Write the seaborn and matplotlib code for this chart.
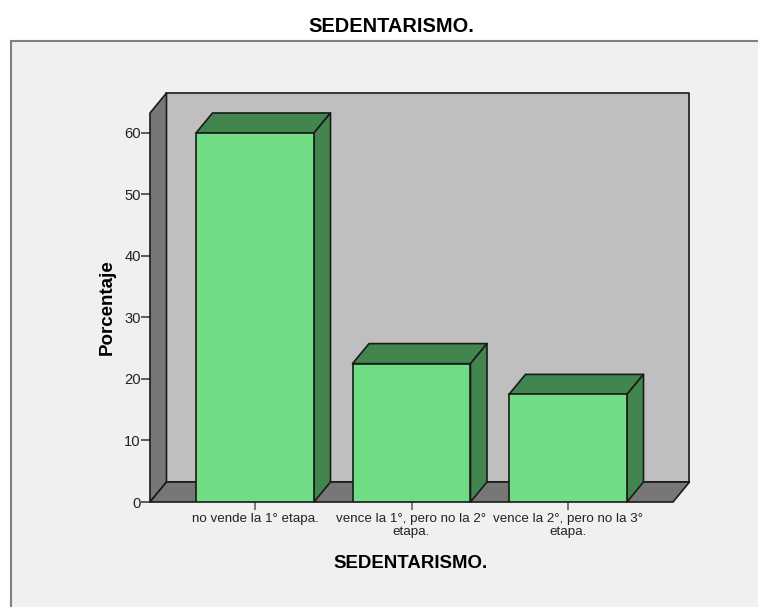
# ==========================================
# SEDENTARISMO - 3D STYLE BAR CHART
# ==========================================

import matplotlib
matplotlib.use("Agg")
import matplotlib.pyplot as plt
from matplotlib.patches import Polygon, Rectangle
import seaborn as sns

# Data
categorias = [
    "no vende la 1° etapa.",
    "vence la 1°, pero no la 2°\netapa.",
    "vence la 2°, pero no la 3°\netapa.",
]
porcentajes = [60.0, 22.5, 17.5]
ticks_y = [0, 10, 20, 30, 40, 50, 60]

# Colours
VERDE = "#70DD85"
VERDE_OSC = "#43854F"
PARED = "#BFBFBF"
GRIS_OSC = "#777777"
PANEL = "#F0F0F0"
BORDE = "#1A1A1A"

sns.set_theme(style="white")
plt.rcParams["font.family"] = ["Liberation Sans", "DejaVu Sans"]

W, H = 758, 607
fig = plt.figure(figsize=(W / 100, H / 100), dpi=100, facecolor="white")

# Grey panel behind the chart, runs off the right and bottom edges
fig.patches.append(Rectangle((10.5 / W, -0.05), 1.0, 1 - 40.5 / H + 0.05,
                             transform=fig.transFigure, facecolor=PANEL,
                             edgecolor="#808080", linewidth=1.5, zorder=-1))

ax = fig.add_axes([150 / W, 1 - 502 / H, 523 / W, 389 / H])
ax.patch.set_visible(False)

sns.barplot(x=categorias, y=porcentajes, color=VERDE, saturation=1, width=0.754,
            edgecolor=BORDE, linewidth=1.2, ax=ax)

ax.set_xlim(-0.671, 2.671)
ax.set_ylim(0, 63.25)
xmin, xmax = ax.get_xlim()
ymin, ymax = ax.get_ylim()

# Depth of the fake 3D, in data units
dx = 16.5 / 156.5
dy = 20 / 6.15


def cara(puntos, color, z):
    ax.add_patch(Polygon(puntos, closed=True, facecolor=color, edgecolor=BORDE,
                         linewidth=1.2, clip_on=False, zorder=z, joinstyle="round"))


# Walls and floor
cara([(xmin + dx, dy), (xmax + dx, dy), (xmax + dx, ymax + dy), (xmin + dx, ymax + dy)], PARED, 0.5)
cara([(xmin, 0), (xmin + dx, dy), (xmin + dx, ymax + dy), (xmin, ymax)], GRIS_OSC, 0.6)
cara([(xmin, 0), (xmax, 0), (xmax + dx, dy), (xmin + dx, dy)], GRIS_OSC, 0.6)

# Top and side of every bar, taken from the bars seaborn drew
for bar in ax.containers[0]:
    x0 = bar.get_x()
    x1 = x0 + bar.get_width()
    h = bar.get_height()
    cara([(x0, h), (x1, h), (x1 + dx, h + dy), (x0 + dx, h + dy)], VERDE_OSC, 3)
    cara([(x1, 0), (x1 + dx, dy), (x1 + dx, h + dy), (x1, h)], VERDE_OSC, 3)
    bar.set_zorder(4)

sns.despine(ax=ax, left=True, bottom=True, top=True, right=True)

ax.set_yticks(ticks_y)
ax.tick_params(axis="y", left=True, length=6.5, width=1.1, color="#333333",
               labelsize=10.6, labelcolor="#222222", pad=0)
ax.tick_params(axis="x", bottom=True, length=6, width=1.1, color="#555555",
               labelsize=9.6, labelcolor="#222222", pad=2)
for lab in ax.get_xticklabels():
    lab.set_linespacing(1.15)

ax.set_ylabel("Porcentaje", fontsize=13.5, fontweight="bold", color="black", va="center")
ax.yaxis.set_label_coords((107 - 150) / 523, (502 - 307) / 389)
ax.set_xlabel("SEDENTARISMO.", fontsize=13.4, fontweight="bold", color="black")
ax.xaxis.set_label_coords((411 - 150) / 523, (502 - 563) / 389)
ax.xaxis.label.set_verticalalignment("center")

fig.text(391 / W, 1 - 26 / H, "SEDENTARISMO.", fontsize=14.4, fontweight="bold",
         color="black", ha="center", va="center")

fig.savefig("out.png", dpi=100, facecolor="white")
plt.close()
